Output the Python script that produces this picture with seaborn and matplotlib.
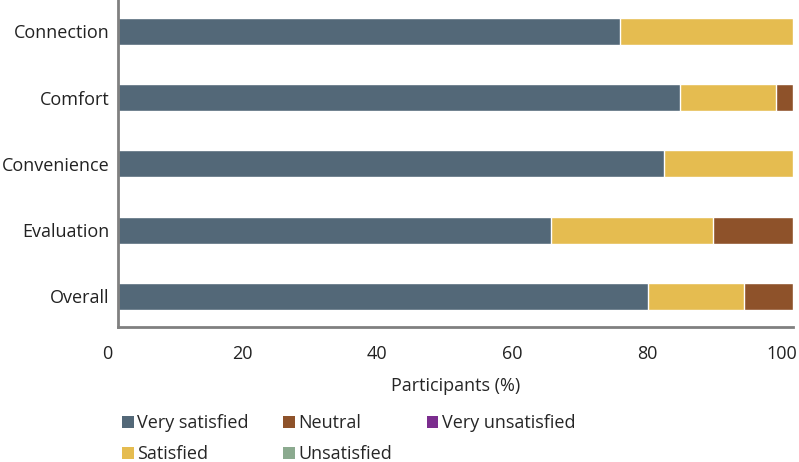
import pandas as pd
import seaborn as sns
import matplotlib.pyplot as plt
import matplotlib.transforms as mtransforms
from matplotlib.patches import Patch

# survey results, percent of participants
categories = ["Connection", "Comfort", "Convenience", "Evaluation", "Overall"]
very_satisfied = [74.4, 83.3, 80.9, 64.1, 78.5]
satisfied = [25.6, 14.2, 19.1, 24.0, 14.2]
neutral = [0.0, 2.5, 0.0, 11.9, 7.3]
unsatisfied = [0, 0, 0, 0, 0]
very_unsatisfied = [0, 0, 0, 0, 0]

levels = ["Very satisfied", "Satisfied", "Neutral", "Unsatisfied", "Very unsatisfied"]
colors = ["#536878", "#E5BC50", "#8E522A", "#8BAA8F", "#7B2D8E"]
series = [very_satisfied, satisfied, neutral, unsatisfied, very_unsatisfied]

sns.set_theme(style="white")
plt.rcParams["font.family"] = ["Open Sans", "DejaVu Sans"]

df = pd.DataFrame({"category": categories})
running = [0.0] * len(categories)
for name, vals in zip(levels, series):
    running = [r + v for r, v in zip(running, vals)]
    df[name] = running

fig = plt.figure(figsize=(7.99, 4.62), dpi=100)
ax = fig.add_axes([118 / 799, 1 - 327 / 462, (793 - 118) / 799, 327 / 462])

# draw cumulative bars, widest first so each segment shows on top
for name, col in reversed(list(zip(levels, colors))):
    sns.barplot(data=df, x=name, y="category", color=col, width=0.41,
                saturation=1, ax=ax, orient="h")

ax.set_xlim(0, 100)
ax.set_ylim(4.46, -0.47)
ax.set_xticks([0, 20, 40, 60, 80, 100])
ax.set_ylabel("")
ax.set_xlabel("Participants (%)", fontsize=13, labelpad=10)
ax.tick_params(axis="both", length=0, labelsize=13, colors="#222222")
ax.tick_params(axis="x", pad=13)
ax.tick_params(axis="y", pad=6)
for s in ["top", "right"]:
    ax.spines[s].set_visible(False)
for s in ["left", "bottom"]:
    ax.spines[s].set_color("#808080")
    ax.spines[s].set_linewidth(2)

# x tick labels sit a little left of the bars in the original
shift = mtransforms.ScaledTranslation(-8 / 72, 0, fig.dpi_scale_trans)
for lab in ax.get_xticklabels():
    lab.set_transform(lab.get_transform() + shift)

handles = [Patch(facecolor=c, edgecolor="none", label=l) for l, c in zip(levels, colors)]
fig.legend(handles=handles, ncol=3, loc="upper left",
           bbox_to_anchor=(122 / 799, 1 - 414 / 462), frameon=False,
           fontsize=13, handlelength=0.65, handleheight=0.65, handletextpad=0.2,
           columnspacing=1.9, labelspacing=0.72, borderaxespad=0, borderpad=0)

fig.savefig("out.png", dpi=100)
